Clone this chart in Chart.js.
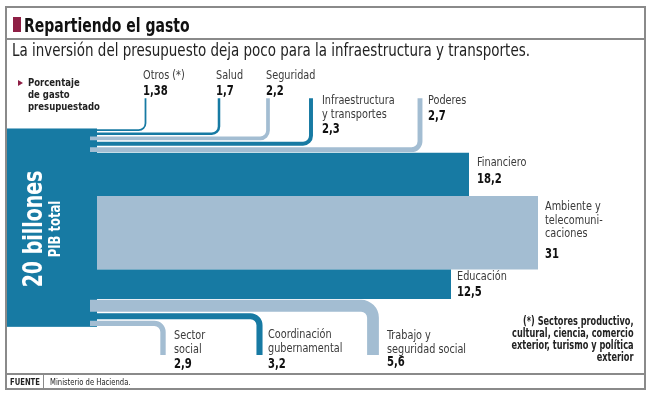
<!DOCTYPE html>
<html lang="es">
<head>
<meta charset="utf-8">
<title>Repartiendo el gasto</title>
<script src="https://cdn.jsdelivr.net/npm/chart.js@4.4.1/dist/chart.umd.min.js"></script>
<style>
  html, body { margin: 0; padding: 0; background: #fff; }
  #wrap { position: relative; width: 653px; height: 398px; overflow: hidden;
          font-family: "Liberation Sans Narrow", "DejaVu Sans Condensed", "Roboto", sans-serif; color: #222; }
  #chart { position: absolute; left: 0; top: 0; }
  .abs { position: absolute; white-space: nowrap; }
  .narrow { transform-origin: left center; }
  .frame { left: 5px; top: 6px; width: 641px; height: 384px; border: 2px solid #8a8a8a; box-sizing: border-box; }
  .rule { background: #8a8a8a; }
  .title { left: 24px; top: 14px; font-size: 19px; line-height: 22px; font-weight: bold; color: #111; transform: scaleX(0.82); }
  .mark { left: 13px; top: 17px; width: 8px; height: 15px; background: #8e1f45; }
  .subtitle { left: 12px; top: 41px; font-size: 17px; line-height: 18px; color: #222; transform: scaleX(0.88); }
  .legend { left: 28px; top: 77px; font-size: 11px; line-height: 12px; font-weight: bold; color: #222; transform: scaleX(0.86); }
  .arrow { left: 18px; top: 80px; width: 0; height: 0; border-left: 5px solid #8e1f45;
           border-top: 3.5px solid transparent; border-bottom: 3.5px solid transparent; }
  .note { right: 19px; top: 315px; font-size: 11.5px; line-height: 12px; font-weight: bold; text-align: right; color: #222;
          transform: scaleX(0.79); transform-origin: right center; }
  .src { top: 375px; font-size: 9.5px; line-height: 13px; color: #222; transform: scaleX(0.8); }
  .trunk { color: #fff; font-weight: bold; line-height: 1; }
</style>
</head>
<body>
<div id="wrap">
  <canvas id="chart" width="653" height="398"></canvas>
  <div class="abs frame"></div>
  <div class="abs rule" style="left:5px;top:38px;width:641px;height:2px"></div>
  <div class="abs mark"></div>
  <div class="abs title narrow">Repartiendo el gasto</div>
  <div class="abs subtitle narrow">La inversión del presupuesto deja poco para la infraestructura y transportes.</div>
  <div class="abs arrow"></div>
  <div class="abs legend narrow">Porcentaje<br>de gasto<br>presupuestado</div>
  <div class="abs trunk" style="left:32px;top:229px;font-size:27px;transform:translate(-50%,-50%) rotate(-90deg) scaleX(0.78)">20 billones</div>
  <div class="abs trunk" style="left:55px;top:229px;font-size:15px;transform:translate(-50%,-50%) rotate(-90deg) scaleX(0.86)">PIB total</div>
  <div class="abs note">(*) Sectores productivo,<br>cultural, ciencia, comercio<br>exterior, turismo y política<br>exterior</div>
  <div class="abs rule" style="left:5px;top:373px;width:641px;height:2px"></div>
  <div class="abs rule" style="left:43px;top:374px;width:1px;height:15px"></div>
  <div class="abs src narrow" style="left:10px;font-weight:bold">FUENTE</div>
  <div class="abs src narrow" style="left:50px">Ministerio de Hacienda.</div>
</div>
<script>
// data: share of the budget per sector, in stacking order from top to bottom
const sectors = ['Otros (*)', 'Salud', 'Seguridad', 'Infraestructura\ny transportes', 'Poderes',
                 'Financiero', 'Ambiente y\ntelecomuni-\ncaciones', 'Educación',
                 'Trabajo y\nseguridad social', 'Coordinación\ngubernamental', 'Sector\nsocial'];
const shares = [1.38, 1.7, 2.2, 2.3, 2.7, 18.2, 31, 12.5, 5.6, 3.2, 2.9];
const branches = ['up', 'up', 'up', 'up', 'up', 'right', 'right', 'right', 'down', 'down', 'down'];

// styles and layout
const darkBlue = '#177aa3';
const lightBlue = '#a3bdd2';
const tones = [darkBlue, darkBlue, lightBlue, darkBlue, lightBlue, darkBlue, lightBlue, darkBlue, lightBlue, darkBlue, lightBlue];
const branchX = [145.5, 219, 268, 311, 420, 469, 538, 451, 373, 259.5, 163]; // leg centre or block end
const startX = [90, 90, 90, 90, 90, 96, 97, 96, 90, 90, 90];
const labelX = [143, 216, 266, 322, 428, 477, 545, 457, 387, 268, 174];
const labelY = [76, 76, 76, 101, 101, 163, 207, 277, 336, 335, 336];
const valueY = [91, 91, 91, 129, 116, 179, 254, 292, 362, 364, 364];
const trunkLeft = 6, trunkRight = 97;
const legEndUp = -12.7, legEndDown = 95.6; // in budget points on the y axis
const gap = 0.75, innerR = 6;
const font = '"Liberation Sans Narrow", "DejaVu Sans Condensed", "Roboto", sans-serif';

const fmt = v => String(v).replace('.', ',');

function narrowText(ctx, text, x, y, sx) {
  ctx.save();
  ctx.translate(x, y);
  ctx.scale(sx, 1);
  ctx.fillText(text, 0, 0);
  ctx.restore();
}

const flowPlugin = {
  id: 'flows',
  beforeDatasetsDraw(chart) {
    const ctx = chart.ctx;
    const xs = chart.scales.x, ys = chart.scales.y;
    const total = shares.reduce((a, b) => a + b, 0);
    ctx.save();
    ctx.fillStyle = darkBlue;
    ctx.fillRect(xs.getPixelForValue(trunkLeft), ys.getPixelForValue(0),
      xs.getPixelForValue(trunkRight) - xs.getPixelForValue(trunkLeft),
      ys.getPixelForValue(total) - ys.getPixelForValue(0));

    let acc = 0;
    shares.forEach((v, i) => {
      let top = ys.getPixelForValue(acc);
      let bot = ys.getPixelForValue(acc + v);
      acc += v;
      const x0 = xs.getPixelForValue(startX[i]);
      const cx = xs.getPixelForValue(branchX[i]);
      ctx.fillStyle = tones[i];
      ctx.beginPath();
      if (branches[i] === 'right') {
        ctx.rect(x0, top, cx - x0, bot - top);
      } else {
        top += gap; bot -= gap;
        const w = bot - top;
        const l = cx - w / 2, r = cx + w / 2;
        const outerR = innerR + w;
        if (branches[i] === 'up') {
          const yEnd = ys.getPixelForValue(legEndUp);
          ctx.moveTo(x0, top);
          ctx.lineTo(l - innerR, top);
          ctx.arcTo(l, top, l, top - innerR, innerR);
          ctx.lineTo(l, yEnd);
          ctx.lineTo(r, yEnd);
          ctx.lineTo(r, bot - outerR);
          ctx.arcTo(r, bot, r - outerR, bot, outerR);
          ctx.lineTo(x0, bot);
        } else {
          const yEnd = ys.getPixelForValue(legEndDown);
          ctx.moveTo(x0, top);
          ctx.lineTo(r - outerR, top);
          ctx.arcTo(r, top, r, top + outerR, outerR);
          ctx.lineTo(r, yEnd);
          ctx.lineTo(l, yEnd);
          ctx.lineTo(l, bot + innerR);
          ctx.arcTo(l, bot, l - innerR, bot, innerR);
          ctx.lineTo(x0, bot);
        }
        ctx.closePath();
      }
      ctx.fill();
    });
    ctx.restore();
  },
  afterDatasetsDraw(chart) {
    const ctx = chart.ctx;
    ctx.save();
    ctx.textBaseline = 'middle';
    ctx.textAlign = 'left';
    sectors.forEach((name, i) => {
      ctx.font = '13px ' + font;
      ctx.fillStyle = '#3a3a3a';
      name.split('\n').forEach((line, j) => narrowText(ctx, line, labelX[i], labelY[i] + j * 13.5, 0.83));
      ctx.font = 'bold 14px ' + font;
      ctx.fillStyle = '#111';
      narrowText(ctx, fmt(shares[i]), labelX[i], valueY[i], 0.8);
    });
    ctx.restore();
  }
};

new Chart(document.getElementById('chart'), {
  type: 'scatter',
  data: { labels: sectors, datasets: [] },
  options: {
    responsive: false,
    animation: false,
    devicePixelRatio: 1,
    layout: { padding: 0 },
    plugins: { legend: { display: false }, tooltip: { enabled: false } },
    scales: {
      x: { type: 'linear', display: false, min: 0, max: 653 },
      y: { type: 'linear', display: false, reverse: true, min: -54.2, max: 113.7 }
    }
  },
  plugins: [flowPlugin]
});
</script>
</body>
</html>
